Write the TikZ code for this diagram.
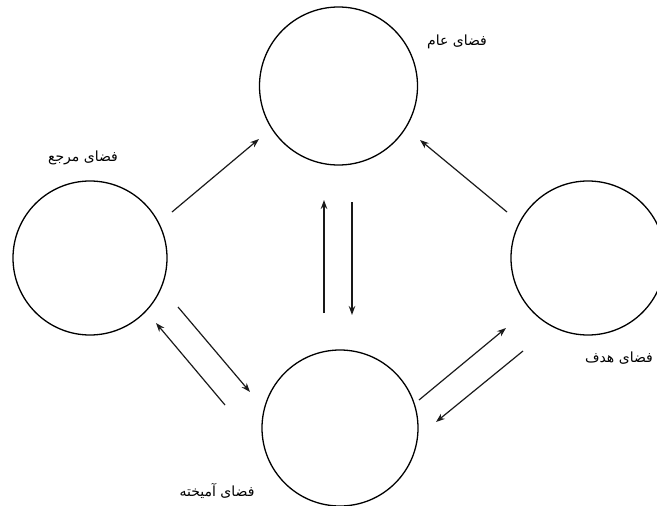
\documentclass[tikz,border=0pt]{standalone}
\usepackage{fontspec}
\TeXXeTstate=1
\newfontfamily\arabicfont[Script=Arabic]{DejaVu Sans}
\usetikzlibrary{arrows.meta}
\begin{document}
\begin{tikzpicture}[x=1pt,y=-1pt,
  space/.style={circle,draw=black,line width=1.3pt,inner sep=0pt},
  arr/.style={draw=black!90,line width=1.2pt,-{Stealth[length=9pt,width=6.5pt]}},
  lab/.style={font=\arabicfont\fontsize{14}{16}\selectfont,inner sep=0pt}]
\useasboundingbox (0,0) rectangle (657,506);
\node[space,minimum size=158pt] (top) at (338.5,86) {};
\node[space,minimum size=154pt] (left) at (90,258) {};
\node[space,minimum size=154pt] (right) at (588,258) {};
\node[space,minimum size=156pt] (bottom) at (340,428) {};
\node[lab] (ltop) at (457,42) {\beginR فضای عام\endR};
\node[lab] (lleft) at (83,158) {\beginR فضای مرجع\endR};
\node[lab] (lright) at (619,358) {\beginR فضای هدف\endR};
\node[lab] (lbottom) at (217,491) {\beginR فضای آمیخته\endR};
\coordinate (a1s) at (172,212); \coordinate (a1e) at (259,139);
\coordinate (a2s) at (507,212); \coordinate (a2e) at (420,140);
\coordinate (a3s) at (324,313); \coordinate (a3e) at (324,200);
\coordinate (a4s) at (352,202); \coordinate (a4e) at (352,315);
\coordinate (a5s) at (225,405); \coordinate (a5e) at (156,323);
\coordinate (a6s) at (178,307); \coordinate (a6e) at (250,392);
\coordinate (a7s) at (419,400); \coordinate (a7e) at (506,328);
\coordinate (a8s) at (523,351); \coordinate (a8e) at (436,422);
\draw[arr] (a1s) -- (a1e);
\draw[arr] (a2s) -- (a2e);
\draw[arr] (a3s) -- (a3e);
\draw[arr] (a4s) -- (a4e);
\draw[arr] (a5s) -- (a5e);
\draw[arr] (a6s) -- (a6e);
\draw[arr] (a7s) -- (a7e);
\draw[arr] (a8s) -- (a8e);
\end{tikzpicture}
\end{document}
